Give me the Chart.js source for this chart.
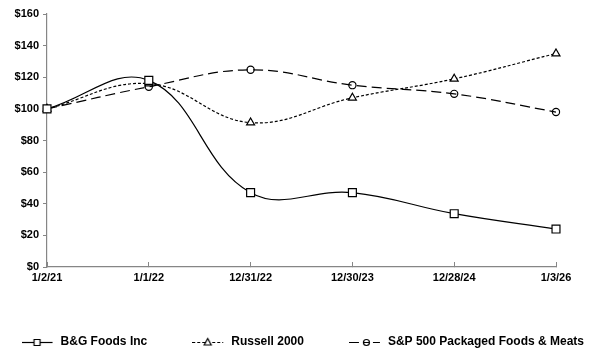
<!DOCTYPE html>
<html>
<head>
<meta charset="utf-8">
<script src="https://cdn.jsdelivr.net/npm/chart.js@4"></script>
<style>
  html, body { margin: 0; padding: 0; background: #fff; }
  #wrap { width: 592px; height: 354px; }
</style>
</head>
<body>
<div id="wrap"><canvas id="chart"></canvas></div>
<script>
var dates = ["1/2/21", "1/1/22", "12/31/22", "12/30/23", "12/28/24", "1/3/26"];
var bgFoods = [100, 118, 47, 47, 33.7, 24];
var russell = [100, 116, 91.3, 107, 119, 135];
var spPackaged = [100, 114, 124.7, 115, 109.5, 98];
var seriesNames = ["B&G Foods Inc", "Russell 2000", "S&P 500 Packaged Foods & Meats"];

var axisGray = "#868686";
var fontFamily = "'Liberation Sans', Arial, sans-serif";

// little line + marker pictures for the legend (right 7px left empty)
function makeSwatch(marker, dash) {
  var c = document.createElement("canvas");
  c.width = 38;
  c.height = 12;
  var ctx = c.getContext("2d");
  var mid = 15.5;
  ctx.strokeStyle = "#000";
  ctx.lineWidth = 1.2;
  ctx.setLineDash(dash);
  ctx.beginPath();
  ctx.moveTo(0, 6.5);
  ctx.lineTo(31, 6.5);
  ctx.stroke();
  ctx.setLineDash([]);
  ctx.beginPath();
  if (marker === "rect") {
    ctx.fillStyle = "#fff";
    ctx.rect(mid - 3, 3.5, 6, 6);
    ctx.fill();
  } else if (marker === "triangle") {
    ctx.fillStyle = "#fff";
    ctx.moveTo(mid, 2.5);
    ctx.lineTo(mid + 3.5, 9);
    ctx.lineTo(mid - 3.5, 9);
    ctx.closePath();
    ctx.fill();
  } else {
    ctx.arc(mid + 2, 6.5, 3, 0, Math.PI * 2);
  }
  ctx.stroke();
  return c;
}

var swatches = [
  makeSwatch("rect", []),
  makeSwatch("triangle", [3, 2]),
  makeSwatch("circle", [10, 5, 6, 3])
];
// extra room after the first two legend entries
var gapText = ["\u2003\u2003\u2003\u2002", "\u2003\u2003\u2003\u2002", ""];

function lineSet(label, data, style, dash, fill, radius) {
  return {
    label: label,
    data: data,
    borderColor: "#000",
    borderWidth: 1.2,
    borderDash: dash,
    pointStyle: style,
    pointRadius: radius,
    pointHoverRadius: radius,
    pointBorderColor: "#000",
    pointBorderWidth: 1.2,
    pointBackgroundColor: fill,
    tension: 0.4,
    fill: false
  };
}

new Chart(document.getElementById("chart"), {
  type: "line",
  data: {
    labels: dates,
    datasets: [
      lineSet(seriesNames[0], bgFoods, "rect", [], "#fff", 5.6),
      lineSet(seriesNames[1], russell, "triangle", [3, 2], "#fff", 4.6),
      lineSet(seriesNames[2], spPackaged, "circle", [10, 5], "rgba(0,0,0,0)", 3.6)
    ]
  },
  options: {
    responsive: true,
    maintainAspectRatio: false,
    animation: false,
    layout: { padding: { left: 0, top: 14, right: 0, bottom: -4 } },
    plugins: {
      tooltip: { enabled: false },
      legend: {
        position: "bottom",
        align: "end",
        labels: {
          usePointStyle: true,
          pointStyleWidth: 28,
          padding: 8,
          color: "#000",
          font: { family: fontFamily, size: 12, weight: "bold" },
          generateLabels: function(chart) {
            var items = Chart.defaults.plugins.legend.labels.generateLabels(chart);
            items.forEach(function(it, i) {
              it.pointStyle = swatches[i];
              it.text = it.text + gapText[i];
            });
            return items;
          }
        }
      }
    },
    scales: {
      x: {
        grid: { drawOnChartArea: false, tickLength: -5, color: axisGray },
        border: { color: axisGray, width: 1.2 },
        ticks: {
          color: "#000",
          padding: 9,
          maxRotation: 0,
          autoSkip: false,
          font: { family: fontFamily, size: 11, weight: "bold" }
        },
        afterFit: function(s) {
          s.height = 61;
          s.paddingRight = 36;
        }
      },
      y: {
        min: 0,
        max: 160,
        grid: { drawOnChartArea: false, tickLength: 4, color: axisGray },
        border: { color: axisGray, width: 1.2 },
        ticks: {
          stepSize: 20,
          color: "#000",
          padding: 4,
          font: { family: fontFamily, size: 11, weight: "bold" },
          callback: function(v) { return "$" + v; }
        },
        afterFit: function(s) { s.width = 47; }
      }
    }
  }
});
</script>
</body>
</html>
